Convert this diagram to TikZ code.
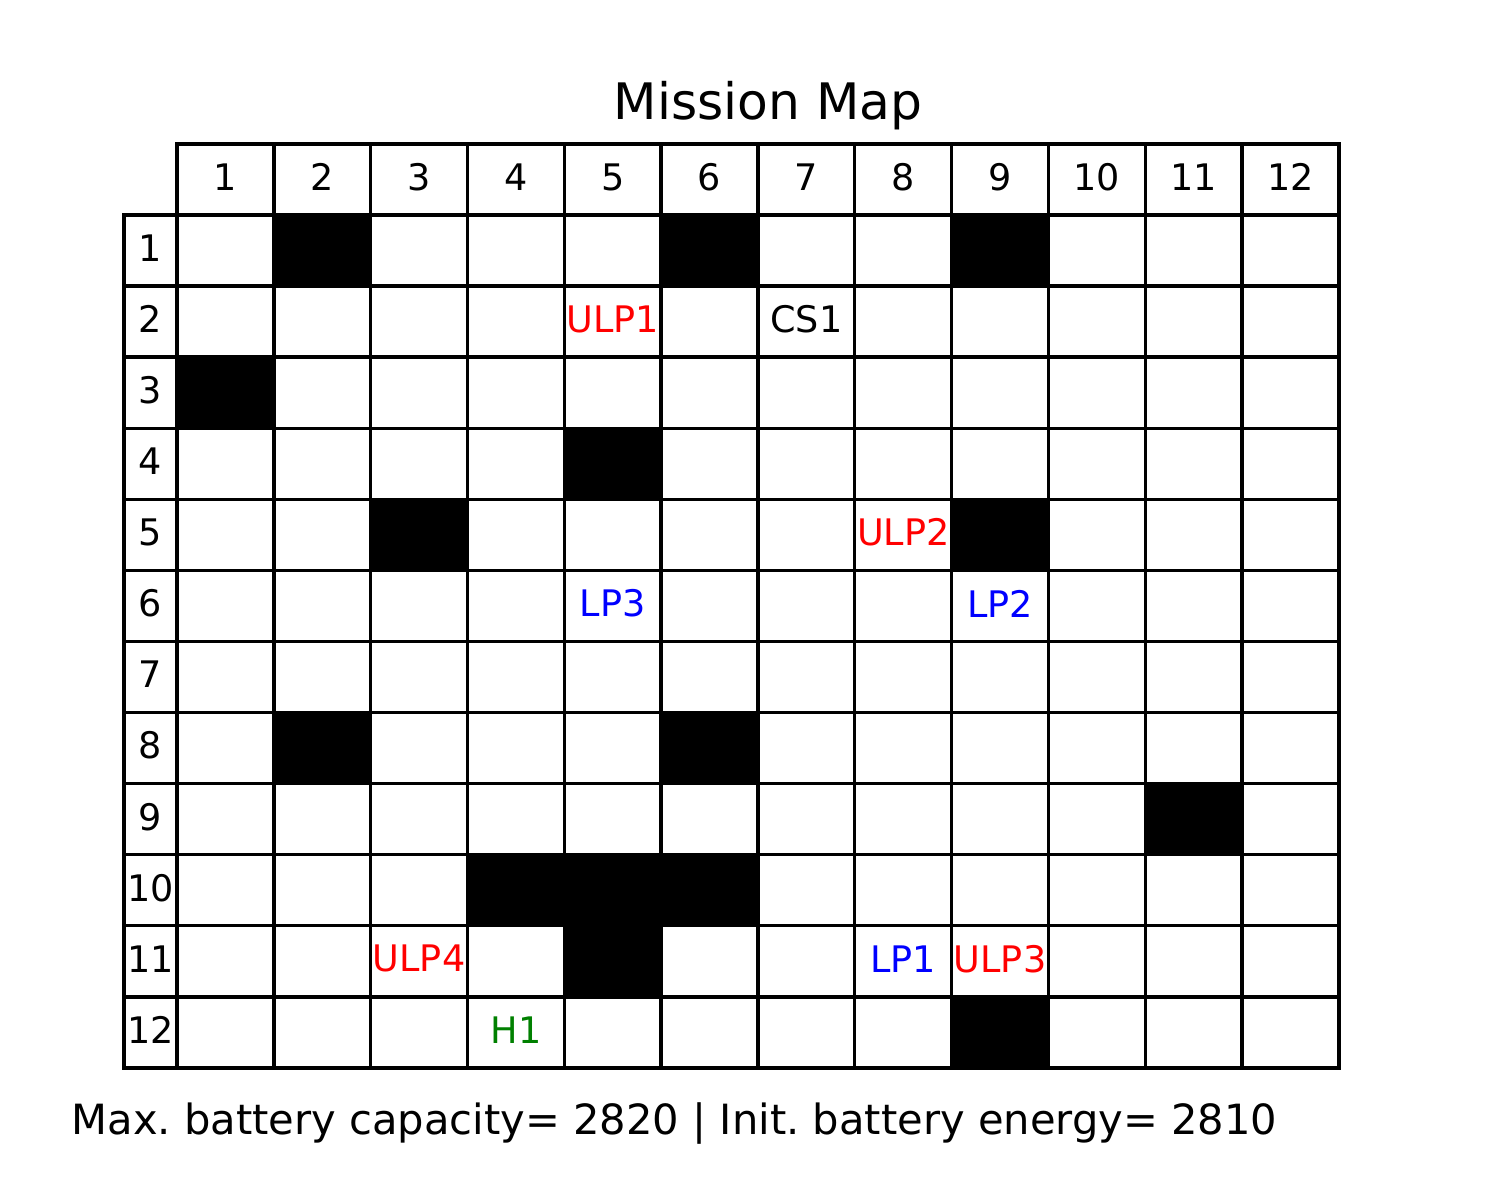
\documentclass[tikz,border=0pt]{standalone}
\usepackage{fontspec}
\setmainfont{DejaVu Sans}
\usepackage{xcolor}
\usetikzlibrary{positioning}
\frenchspacing

\definecolor{mplgreen}{RGB}{0,128,0}

\def\gx{177}   % left edge of the map cells
\def\gy{215}   % top edge of the map cells
\def\cw{96.83} % cell width
\def\ch{71.08} % cell height

\begin{document}
\begin{tikzpicture}[
        x=0.01cm, y=-0.01cm,
        gridline/.style={draw=black, line width=0.95pt, line cap=rect},
        wall/.style={fill=black},
        lbl/.style={font=\fontsize{10.4}{12}\selectfont, inner sep=0pt, anchor=center},
        poi/.style={lbl, text=#1},
        poi/.default=black,
    ]
    \useasboundingbox (0,0) rectangle (1500,1200);

    % ---- TITLE ----
    \node[font=\fontsize{14.3}{17}\selectfont, anchor=base] (title) at (768,119) {Mission Map};

    % ---- BLOCKED CELLS ----
    \foreach \r/\c in {1/2, 1/6, 1/9, 3/1, 4/5, 5/3, 5/9, 8/2, 8/6, 9/11,
                       10/4, 10/5, 10/6, 11/5, 12/9} {
        \fill[wall] ({\gx+(\c-1)*\cw},{\gy+(\r-1)*\ch}) rectangle ++(\cw,\ch);
    }

    % ---- GRID ----
    \foreach \c in {0,...,12} {
        \draw[gridline] ({\gx+\c*\cw},144) -- ({\gx+\c*\cw},{\gy+12*\ch});
    }
    \draw[gridline] (124,\gy) -- (124,{\gy+12*\ch});
    \draw[gridline] (\gx,144) -- ({\gx+12*\cw},144);
    \foreach \r in {0,...,12} {
        \draw[gridline] (124,{\gy+\r*\ch}) -- ({\gx+12*\cw},{\gy+\r*\ch});
    }

    % ---- HEADERS ----
    \foreach \c in {1,...,12} {
        \node[lbl] (hdr-\c) at ({\gx+(\c-0.5)*\cw},177) {\c};
    }
    \foreach \r in {1,...,12} {
        \node[lbl] (row-\r) at (150.5,{\gy+(\r-0.5)*\ch-2.5}) {\r};
    }

    % ---- POINTS OF INTEREST ----
    \foreach \r/\c/\t/\k in {2/5/ULP1/red, 2/7/CS1/black, 5/8/ULP2/red,
                             6/5/LP3/blue, 6/9/LP2/blue, 11/3/ULP4/red,
                             11/8/LP1/blue, 11/9/ULP3/red, 12/4/H1/mplgreen} {
        \node[poi=\k] (\t) at ({\gx+(\c-0.5)*\cw},{\gy+(\r-0.5)*\ch-2.5}) {\t};
    }

    % ---- FOOTER ----
    \node[font=\fontsize{11.84}{14}\selectfont, anchor=base west, inner sep=0pt] (battery) at (71,1134)
        {Max. battery capacity= 2820 | Init. battery energy= 2810};
\end{tikzpicture}
\end{document}
